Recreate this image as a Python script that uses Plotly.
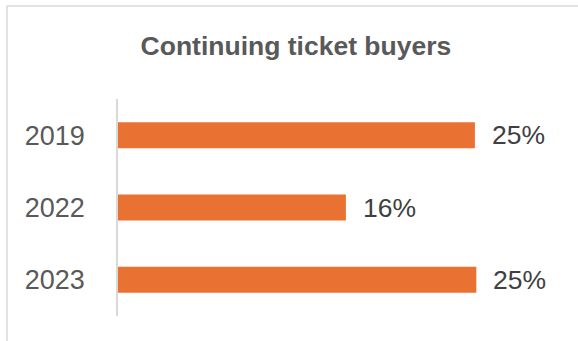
import plotly.graph_objects as go

# Share of continuing ticket buyers by year
years = ["2019", "2022", "2023"]
shares = [0.249, 0.159, 0.250]

BAR_COLOR = "#E97132"
W, H = 578, 341
L, R, T, B = 118, 30, 99, 25

# bottom-to-top order of the category axis (2019 ends up on top)
cat_order = years[::-1]

fig = go.Figure(
    go.Bar(
        x=shares,
        y=years,
        orientation="h",
        marker=dict(color=BAR_COLOR, line=dict(width=0)),
        hoverinfo="skip",
    )
)

# value labels to the right of each bar (category axis positions are indices)
for yr, v in zip(years, shares):
    fig.add_annotation(
        x=v, y=cat_order.index(yr), xref="x", yref="y",
        text=f"{v * 100:.0f}%",
        showarrow=False, xanchor="left", yanchor="middle",
        xshift=15,
        font=dict(family="Liberation Sans, Arial, sans-serif", size=26.5, color="#404040"),
    )

# light outer frame of the chart area
pw, ph = W - L - R, H - T - B
def px_x(p):
    return (p - L) / pw
def px_y(p):
    return (H - B - p) / ph

fig.add_shape(
    type="rect", xref="paper", yref="paper",
    x0=px_x(7), x1=px_x(640), y0=px_y(6), y1=px_y(400),
    line=dict(color="#D9D9D9", width=1.5), fillcolor="rgba(0,0,0,0)", layer="below",
)

fig.update_layout(
    width=W, height=H,
    margin=dict(l=L, r=R, t=T, b=B),
    paper_bgcolor="white", plot_bgcolor="white",
    bargap=0.64,
    showlegend=False,
    title=dict(
        text="<b>Continuing ticket buyers</b>",
        x=0.512, xref="container", xanchor="center",
        y=1 - 46 / H, yref="container", yanchor="middle",
        font=dict(family="Liberation Sans, Arial, sans-serif", size=26.5, color="#595959"),
    ),
    xaxis=dict(
        range=[0, 0.30], showticklabels=False, showline=False,
        showgrid=False, zeroline=False, ticks="",
    ),
    yaxis=dict(
        type="category", categoryorder="array", categoryarray=cat_order,
        range=[-0.5, len(years) - 0.5],
        showline=True, linecolor="#D9D9D9", linewidth=1.5,
        showgrid=False, zeroline=False,
        ticks="outside", ticklen=26, tickcolor="rgba(0,0,0,0)",
        tickfont=dict(family="Liberation Sans, Arial, sans-serif", size=27, color="#595959"),
    ),
)

fig.write_html("out.html")
